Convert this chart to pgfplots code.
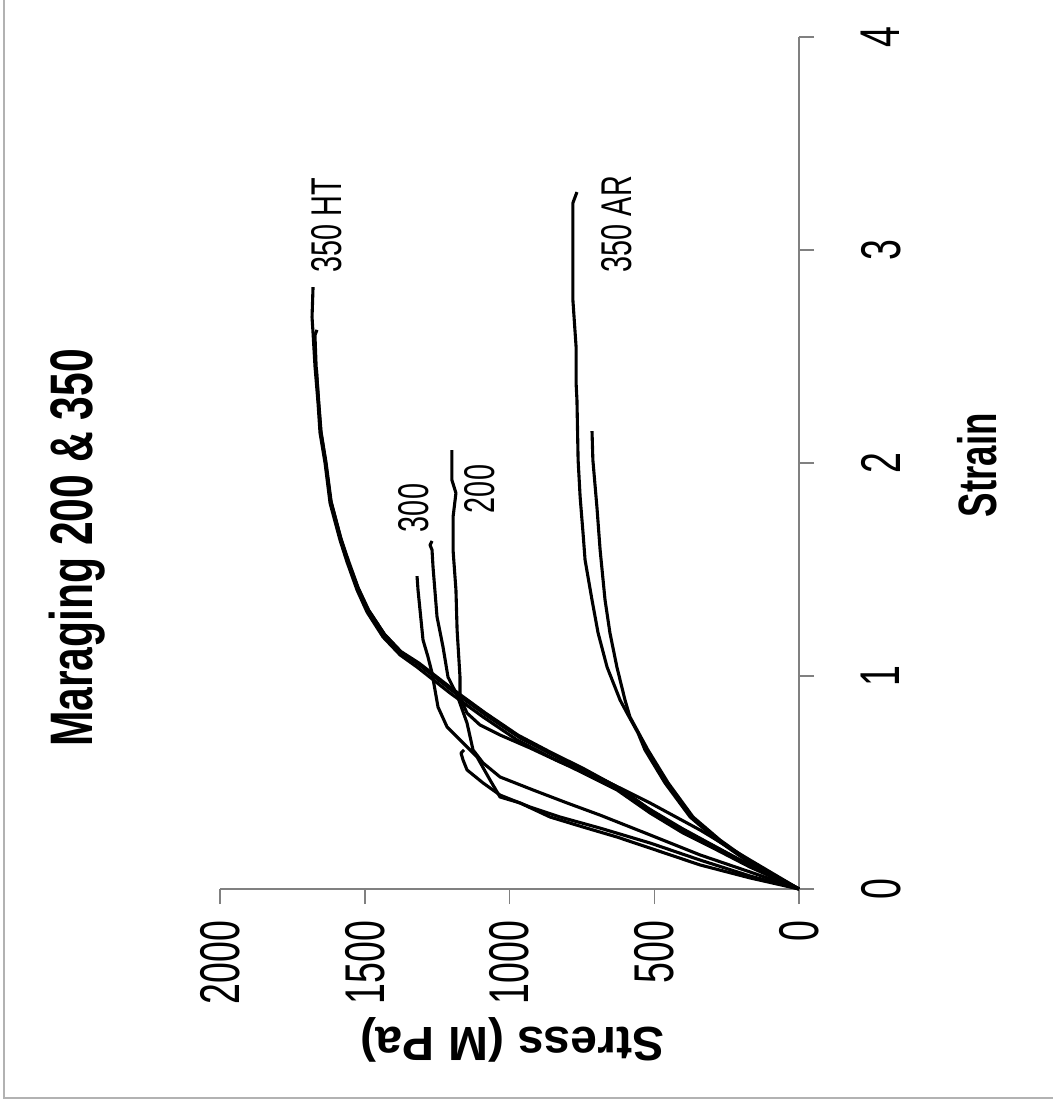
\documentclass[border=0pt]{standalone}
\usepackage{pgfplots}
\pgfplotsset{compat=1.18}
\usepackage{fontspec}
\setmainfont{Liberation Sans}
\newcommand{\cond}[2]{\scalebox{#1}[1]{#2}}
\pgfplotsset{curve/.style={black, solid, line width=1.55pt, mark=none, line join=round}}
\begin{document}
\begin{tikzpicture}[x=1pt,y=1pt]
\path[use as bounding box] (0,0) rectangle (526.5,555);
\draw[gray!60, line width=0.6pt] (2,555) -- (2,6) -- (526.5,6);
\begin{axis}[at={(110pt,110.5pt)}, anchor=south west, scale only axis,
  width=289.5pt, height=426pt,
  xmin=-2000, xmax=0, ymin=0, ymax=4,
  x filter/.expression={-x},
  axis x line=bottom, axis y line=right,
  axis line style={-, gray, line width=0.75pt},
  tick style={gray, line width=0.75pt},
  tick align=outside, major tick length=7.5pt,
  xtick={-2000,-1500,-1000,-500,0},
  xticklabels={\cond{0.67}{2000},\cond{0.67}{1500},\cond{0.67}{1000},\cond{0.67}{500},\cond{0.67}{0}},
  ytick={0,1,2,3,4},
  yticklabels={\cond{0.67}{0},\cond{0.67}{1},\cond{0.67}{2},\cond{0.67}{3},\cond{0.67}{4}},
  xticklabel style={rotate=90, anchor=east, font=\fontsize{28}{28}\selectfont},
  yticklabel style={rotate=90, anchor=north, font=\fontsize{28}{28}\selectfont},
  xticklabel shift=5pt, yticklabel shift=20pt,
  clip=false,
]
% 350 HT (a)
\addplot[curve] coordinates {(0,0) (55.3,0.033) (169.2,0.103) (283.2,0.183) (400.7,0.263) (514.6,0.357) (628.6,0.465) (746.1,0.545) (860.0,0.620) (974.0,0.700) (1091.5,0.808) (1205.4,0.920) (1319.4,1.042) (1378.1,1.099) (1436.9,1.183) (1492.1,1.300) (1526.7,1.404) (1561.2,1.535) (1585.4,1.638) (1619.9,1.812) (1637.2,2.000) (1654.5,2.141) (1661.4,2.282) (1671.7,2.451) (1678.6,2.610) (1682.1,2.685) (1678.6,2.826)};
% 350 HT (b)
\addplot[curve] coordinates {(0,0) (50,0.035) (160,0.105) (272,0.185) (390,0.268) (505,0.362) (615,0.470) (735,0.552) (848,0.628) (962,0.708) (1080,0.815) (1195,0.928) (1310,1.050) (1372,1.108) (1430,1.192) (1486,1.308) (1522,1.412) (1556,1.540) (1582,1.645) (1616,1.818) (1634,2.005) (1651,2.146) (1659,2.288) (1668,2.455) (1672,2.600) (1665,2.625)};
% 350 HT (c)
\addplot[curve] coordinates {(0,0) (60,0.040) (175,0.115) (290,0.200) (405,0.285) (520,0.378) (632,0.482) (745,0.566) (858,0.642) (970,0.722) (1085,0.828) (1198,0.940) (1312,1.060) (1375,1.115) (1433,1.198) (1490,1.315) (1525,1.418) (1560,1.545) (1584,1.650) (1618,1.825) (1636,2.010) (1652,2.150) (1660,2.290) (1667,2.440)};
% 300 (a)
\addplot[curve] coordinates {(0,0) (169.2,0.052) (341.9,0.113) (514.6,0.192) (628.6,0.244) (746.1,0.291) (860.0,0.338) (963.7,0.404) (1032.7,0.432) (1067.3,0.512) (1112.2,0.620) (1170.9,0.700) (1215.8,0.761) (1246.9,0.854) (1257.3,0.934) (1267.6,1.014) (1281.4,1.089) (1298.7,1.169) (1309.1,1.310) (1316.0,1.404) (1319.4,1.469)};
% 300 (b)
\addplot[curve] coordinates {(0,0) (169.2,0.080) (341.9,0.160) (514.6,0.254) (687.3,0.347) (801.3,0.404) (918.8,0.465) (1032.7,0.526) (1091.5,0.592) (1126.0,0.653) (1146.7,0.779) (1181.3,0.911) (1212.4,0.995) (1229.6,1.136) (1250.3,1.277) (1264.2,1.512) (1267.6,1.592) (1274.5,1.615) (1267.6,1.634)};
% 200 (a)
\addplot[curve] coordinates {(0,0) (169.2,0.136) (341.9,0.277) (514.6,0.404) (687.3,0.521) (825.5,0.596) (929.1,0.662) (1032.7,0.723) (1101.8,0.770) (1146.7,0.826) (1171,0.901) (1171,0.995) (1181,1.216) (1185,1.404) (1195,1.592) (1195,1.746) (1185,1.859) (1199,1.920) (1199,2.061)};
% 200 (b)
\addplot[curve] coordinates {(0,0) (169.2,0.061) (341.9,0.136) (514.6,0.216) (687.3,0.286) (825.5,0.338) (929.1,0.385) (1032.7,0.441) (1091.5,0.498) (1146.7,0.559) (1160.5,0.606) (1167.5,0.638) (1157,0.653)};
% 350 AR (a)
\addplot[curve] coordinates {(0,0) (169,0.122) (283,0.230) (376,0.338) (463,0.498) (532,0.653) (556,0.732) (594,0.826) (618,0.887) (663,1.042) (694,1.202) (715,1.357) (739,1.545) (746,1.671) (756,1.840) (763,2.014) (767,2.296) (770,2.376) (770,2.545) (781,2.765) (781,3.221) (767,3.272)};
% 350 AR (b)
\addplot[curve] coordinates {(0,0) (162,0.122) (273,0.230) (366,0.338) (452,0.498) (522,0.653) (584,0.808) (601,0.887) (629,1.042) (653,1.202) (670,1.357) (687,1.592) (698,1.793) (712,2.014) (715,2.150)};
\end{axis}
\node[rotate=90, font=\fontsize{30}{30}\selectfont\bfseries] at (38.5,281) {\cond{0.71}{Maraging 200 \& 350}};
\node[rotate=90, font=\fontsize{27}{27}\selectfont\bfseries] at (488.5,322.5) {\cond{0.68}{Strain}};
\node[rotate=180, font=\fontsize{24}{24}\selectfont\bfseries] at (256,35) {Stress (M Pa)};
\node[rotate=90, font=\fontsize{21.5}{21.5}\selectfont] at (163.5,442.5) {\cond{0.67}{350 HT}};
\node[rotate=90, font=\fontsize{21.5}{21.5}\selectfont] at (308.5,443) {\cond{0.67}{350 AR}};
\node[rotate=90, font=\fontsize{21.5}{21.5}\selectfont] at (207,301) {\cond{0.67}{300}};
\node[rotate=90, font=\fontsize{21.5}{21.5}\selectfont] at (240,310.5) {\cond{0.67}{200}};
\end{tikzpicture}
\end{document}
